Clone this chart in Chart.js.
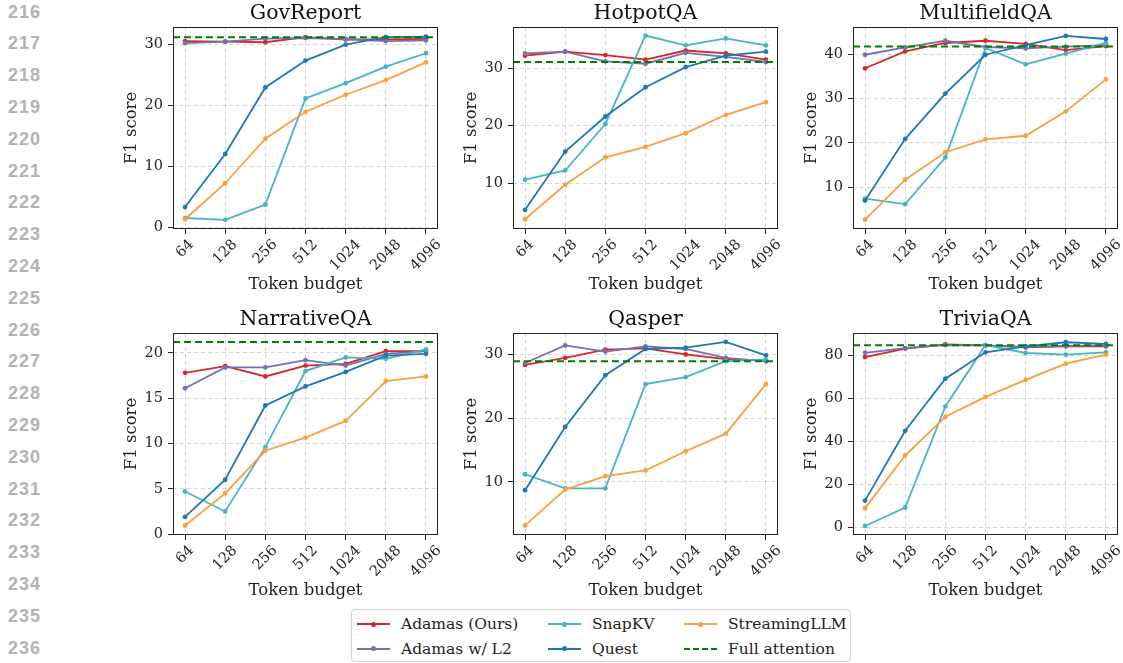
<!DOCTYPE html>
<html>
<head>
<meta charset="utf-8">
<script src="https://cdn.jsdelivr.net/npm/chart.js"></script>
<style>
  body { margin: 0; background: #fff; width: 1123px; height: 663px; overflow: hidden; position: relative; font-family: "DejaVu Serif", serif; }
  canvas { position: absolute; }
  .lineno { position: absolute; left: 8px; font: bold 18px "Liberation Sans", Arial, sans-serif; color: #b3b3b3; letter-spacing: 1px; line-height: 20px; }
  #legend { position: absolute; left: 351px; top: 609px; width: 500px; height: 53px; border: 1px solid #d0d0d0; border-radius: 4px; box-sizing: border-box; background: #fff; }
  .item { position: absolute; font-size: 15.5px; color: #222; line-height: 20px; white-space: nowrap; }
  .sw { position: absolute; width: 33px; height: 0; }
  .dot { position: absolute; width: 5px; height: 5px; border-radius: 50%; left: 14px; top: -3.5px; }
</style>
</head>
<body>
<div id="legend"></div>
<script>
const budgets = ['64', '128', '256', '512', '1024', '2048', '4096'];
const methods = ['Adamas (Ours)', 'Adamas w/ L2', 'SnapKV', 'Quest', 'StreamingLLM'];

// GovReport
const govAdamas = [30.5, 30.4, 30.3, 31.15, 30.75, 30.75, 30.85];
const govL2 = [30.15, 30.4, 30.9, 31.0, 30.8, 30.5, 30.6];
const govSnapKV = [1.5, 1.2, 3.7, 21.1, 23.6, 26.3, 28.5];
const govQuest = [3.3, 12.0, 22.9, 27.3, 29.9, 31.15, 31.2];
const govStreaming = [1.3, 7.2, 14.5, 18.9, 21.7, 24.1, 27.0];
const govFull = 31.1;
const govTicks = [0, 10, 20, 30];

// HotpotQA
const hotAdamas = [32.2, 32.9, 32.3, 31.5, 33.1, 32.6, 31.5];
const hotL2 = [32.6, 32.9, 31.2, 30.8, 32.7, 32.0, 31.1];
const hotSnapKV = [10.6, 12.2, 20.3, 35.7, 34.0, 35.2, 34.0];
const hotQuest = [5.35, 15.5, 21.6, 26.7, 30.2, 32.2, 32.9];
const hotStreaming = [3.7, 9.7, 14.5, 16.3, 18.7, 21.9, 24.1];
const hotFull = 31.1;
const hotTicks = [10, 20, 30];

// MultifieldQA
const mfAdamas = [36.8, 40.6, 42.5, 43.0, 42.3, 40.9, 41.8];
const mfL2 = [39.85, 41.5, 43.0, 41.6, 41.3, 41.7, 42.0];
const mfSnapKV = [7.45, 6.2, 16.7, 41.4, 37.7, 40.1, 42.5];
const mfQuest = [7.0, 20.9, 31.1, 39.85, 42.0, 44.1, 43.4];
const mfStreaming = [2.7, 11.7, 17.9, 20.8, 21.6, 27.1, 34.3];
const mfFull = 41.7;
const mfTicks = [10, 20, 30, 40];

// NarrativeQA
const narAdamas = [17.8, 18.55, 17.4, 18.6, 18.8, 20.2, 20.2];
const narL2 = [16.1, 18.4, 18.4, 19.2, 18.6, 19.9, 20.2];
const narSnapKV = [4.7, 2.5, 9.6, 18.0, 19.5, 19.35, 20.4];
const narQuest = [1.9, 6.0, 14.2, 16.3, 17.9, 19.7, 19.9];
const narStreaming = [0.95, 4.5, 9.2, 10.65, 12.5, 16.9, 17.4];
const narFull = 21.2;
const narTicks = [0, 5, 10, 15, 20];

// Qasper
const qasAdamas = [28.3, 29.4, 30.7, 30.9, 29.95, 29.2, 29.0];
const qasL2 = [28.6, 31.35, 30.4, 31.2, 30.8, 29.4, 28.85];
const qasSnapKV = [11.2, 9.0, 9.0, 25.3, 26.4, 28.9, 29.15];
const qasQuest = [8.7, 18.6, 26.7, 30.8, 31.0, 31.9, 29.8];
const qasStreaming = [3.2, 8.8, 10.9, 11.8, 14.8, 17.55, 25.3];
const qasFull = 28.9;
const qasTicks = [10, 20, 30];

// TriviaQA
const triAdamas = [79.2, 83.1, 85.1, 84.6, 83.7, 84.2, 84.2];
const triL2 = [81.2, 83.4, 84.8, 84.6, 83.9, 84.4, 84.6];
const triSnapKV = [0.6, 9.2, 56.2, 84.8, 81.1, 80.3, 81.4];
const triQuest = [12.4, 44.9, 69.1, 81.4, 84.2, 86.1, 85.3];
const triStreaming = [8.9, 33.4, 51.4, 60.7, 68.6, 76.1, 80.3];
const triFull = 84.7;
const triTicks = [0, 20, 40, 60, 80];

const colors = ['#d62728', '#7570b3', '#45b5c4', '#1f77b4', '#f9a03f'];
const fullColor = '#008000';
const tickFont = 14.5;
const labelFont = 16.5;

Chart.defaults.font.family = '"DejaVu Serif", serif';
Chart.defaults.color = '#222';

const panels = [
  { title: 'GovReport', series: [govAdamas, govL2, govSnapKV, govQuest, govStreaming], full: govFull, ticks: govTicks, min: -0.3, max: 32.8, left: 110, top: 0 },
  { title: 'HotpotQA', series: [hotAdamas, hotL2, hotSnapKV, hotQuest, hotStreaming], full: hotFull, ticks: hotTicks, min: 2.0, max: 37.2, left: 450, top: 0 },
  { title: 'MultifieldQA', series: [mfAdamas, mfL2, mfSnapKV, mfQuest, mfStreaming], full: mfFull, ticks: mfTicks, min: 0.6, max: 46.1, left: 790, top: 0 },
  { title: 'NarrativeQA', series: [narAdamas, narL2, narSnapKV, narQuest, narStreaming], full: narFull, ticks: narTicks, min: -0.1, max: 22.2, left: 110, top: 306 },
  { title: 'Qasper', series: [qasAdamas, qasL2, qasSnapKV, qasQuest, qasStreaming], full: qasFull, ticks: qasTicks, min: 1.7, max: 33.3, left: 450, top: 306 },
  { title: 'TriviaQA', series: [triAdamas, triL2, triSnapKV, triQuest, triStreaming], full: triFull, ticks: triTicks, min: -3.6, max: 90.4, left: 790, top: 306 }
];

// frame, full-attention line and matplotlib-style rotated tick labels
const extras = {
  id: 'extras',
  afterDatasetsDraw(chart, args, opts) {
    const { ctx, chartArea: a, scales } = chart;
    const y = scales.y.getPixelForValue(opts.full);
    ctx.save();
    ctx.strokeStyle = fullColor;
    ctx.lineWidth = 2;
    ctx.setLineDash([7, 4]);
    ctx.beginPath();
    ctx.moveTo(a.left, y);
    ctx.lineTo(a.right, y);
    ctx.stroke();
    ctx.restore();
  },
  afterDraw(chart) {
    const { ctx, chartArea: a, scales } = chart;
    ctx.save();
    ctx.strokeStyle = '#222';
    ctx.lineWidth = 1;
    ctx.strokeRect(a.left + 0.5, a.top + 0.5, a.right - a.left - 1, a.bottom - a.top - 1);
    ctx.font = tickFont + 'px "DejaVu Serif"';
    ctx.fillStyle = '#222';
    ctx.textAlign = 'center';
    ctx.textBaseline = 'middle';
    const top = a.bottom + 9;
    budgets.forEach((lab, i) => {
      const x = scales.x.getPixelForValue(i);
      const d = (ctx.measureText(lab).width + 12) * 0.3536;
      ctx.save();
      ctx.translate(x, top + d);
      ctx.rotate(-Math.PI / 4);
      ctx.fillText(lab, 0, 0);
      ctx.restore();
    });
    ctx.restore();
  }
};

panels.forEach((p, k) => {
  const c = document.createElement('canvas');
  c.width = 334; c.height = 297;
  c.style.left = p.left + 'px';
  c.style.top = p.top + 'px';
  document.body.appendChild(c);

  const datasets = p.series.map((vals, i) => ({
    label: methods[i],
    data: vals.map((v, j) => ({ x: j, y: v })),
    borderColor: colors[i],
    backgroundColor: colors[i],
    borderWidth: 1.8,
    pointRadius: 2.4,
    pointBorderWidth: 0,
    pointHoverRadius: 2.4,
    tension: 0,
    order: -i
  }));

  new Chart(c, {
    type: 'line',
    data: { datasets: datasets },
    plugins: [extras],
    options: {
      responsive: false,
      animation: false,
      layout: { padding: { left: 0, right: 6, top: 0, bottom: 0 } },
      plugins: {
        legend: { display: false },
        tooltip: { enabled: false },
        title: { display: true, fullSize: false, text: p.title, font: { size: 20.5, weight: 'normal' }, color: '#111', padding: { top: 1, bottom: 1.4 } },
        extras: { full: p.full }
      },
      scales: {
        x: {
          type: 'linear', min: -0.3, max: 6.3,
          afterBuildTicks: s => { s.ticks = budgets.map((b, i) => ({ value: i })); },
          afterFit: s => { s.height = 68; },
          ticks: { display: false },
          grid: { color: 'rgba(0,0,0,0.16)', lineWidth: 1, tickColor: '#222', tickLength: 5, tickWidth: 1 },
          border: { display: false, dash: [4, 3] },
          title: { display: true, text: 'Token budget', font: { size: labelFont }, padding: { top: 0, bottom: 2 } }
        },
        y: {
          min: p.min, max: p.max,
          afterBuildTicks: s => { s.ticks = p.ticks.map(v => ({ value: v })); },
          afterFit: s => { s.width = 63; },
          ticks: { font: { size: tickFont }, padding: 5, color: '#222' },
          grid: { color: 'rgba(0,0,0,0.16)', lineWidth: 1, tickColor: '#222', tickLength: 5, tickWidth: 1 },
          border: { display: false, dash: [4, 3] },
          title: { display: true, text: 'F1 score', font: { size: labelFont }, padding: { top: 12, bottom: 0 } }
        }
      }
    }
  });
});

// line numbers of the paper margin
for (let n = 216; n <= 236; n++) {
  const d = document.createElement('div');
  d.className = 'lineno';
  d.textContent = n;
  d.style.top = (11.5 + (n - 216) * 31.8 - 10) + 'px';
  document.body.appendChild(d);
}

// legend
const legend = document.getElementById('legend');
const legendItems = [
  { name: methods[0], color: colors[0], col: 0, row: 0 },
  { name: methods[1], color: colors[1], col: 0, row: 1 },
  { name: methods[2], color: colors[2], col: 1, row: 0 },
  { name: methods[3], color: colors[3], col: 1, row: 1 },
  { name: methods[4], color: colors[4], col: 2, row: 0 },
  { name: 'Full attention', color: fullColor, col: 2, row: 1, dashed: true }
];
const colX = [5, 196, 332];
const rowY = [14.3, 38.7];
legendItems.forEach(it => {
  const sw = document.createElement('div');
  sw.className = 'sw';
  sw.style.left = colX[it.col] + 'px';
  sw.style.top = (rowY[it.row] - 1) + 'px';
  sw.style.borderTop = '2px ' + (it.dashed ? 'dashed ' : 'solid ') + it.color;
  if (!it.dashed) {
    const dot = document.createElement('div');
    dot.className = 'dot';
    dot.style.background = it.color;
    sw.appendChild(dot);
  }
  legend.appendChild(sw);
  const t = document.createElement('div');
  t.className = 'item';
  t.textContent = it.name;
  t.style.left = (colX[it.col] + 44) + 'px';
  t.style.top = (rowY[it.row] - 10) + 'px';
  legend.appendChild(t);
});
</script>
</body>
</html>
